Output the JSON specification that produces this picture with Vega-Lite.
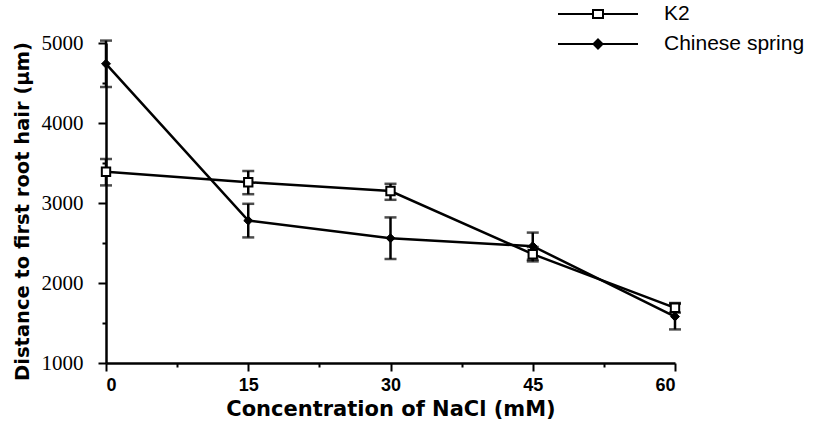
{
  "$schema": "https://vega.github.io/schema/vega-lite/v6.json",
  "width": 569,
  "height": 320,
  "autosize": {"type": "none"},
  "padding": {"left": 106, "top": 43, "right": 146, "bottom": 59},
  "background": "white",
  "config": {
    "view": {"stroke": null},
    "axis": {"domainColor": "black", "domainWidth": 2.5, "tickColor": "black", "tickWidth": 2, "labelColor": "black", "titleColor": "black", "grid": false}
  },
  "data": {
    "values": [
      {"series": "K2", "conc": 0, "mean": 3390, "lo": 3220, "hi": 3550},
      {"series": "K2", "conc": 15, "mean": 3260, "lo": 3110, "hi": 3400},
      {"series": "K2", "conc": 30, "mean": 3150, "lo": 3040, "hi": 3240},
      {"series": "K2", "conc": 45, "mean": 2360, "lo": 2270, "hi": 2450},
      {"series": "K2", "conc": 60, "mean": 1690, "lo": 1630, "hi": 1750},
      {"series": "Chinese spring", "conc": 0, "mean": 4740, "lo": 4450, "hi": 5030},
      {"series": "Chinese spring", "conc": 15, "mean": 2780, "lo": 2570, "hi": 2990},
      {"series": "Chinese spring", "conc": 30, "mean": 2560, "lo": 2300, "hi": 2820},
      {"series": "Chinese spring", "conc": 45, "mean": 2460, "lo": 2290, "hi": 2630},
      {"series": "Chinese spring", "conc": 60, "mean": 1580, "lo": 1420, "hi": 1740}
    ]
  },
  "encoding": {
    "x": {
      "field": "conc", "type": "quantitative",
      "scale": {"domain": [0, 60], "nice": false, "zero": false},
      "axis": {
        "title": "Concentration of NaCl (mM)",
        "values": [0, 7.5, 15, 22.5, 30, 37.5, 45, 52.5, 60],
        "labelExpr": "datum.value % 15 === 0 ? datum.label : ''",
        "tickSize": {"condition": {"test": "datum.value % 15 === 0", "value": 8}, "value": 4},
        "labelFont": "Liberation Sans", "labelFontSize": 18, "labelFontWeight": "bold", "labelPadding": 5,
        "titleFont": "DejaVu Sans", "titleFontSize": 21, "titleFontWeight": "bold", "titlePadding": 4
      }
    },
    "y": {
      "field": "mean", "type": "quantitative",
      "scale": {"domain": [1000, 5000], "nice": false, "zero": false},
      "axis": {
        "title": "Distance to first root hair (µm)",
        "values": [1000, 1500, 2000, 2500, 3000, 3500, 4000, 4500, 5000],
        "labelExpr": "datum.value % 1000 === 0 ? datum.value : ''",
        "tickSize": {"condition": {"test": "datum.value % 1000 === 0", "value": 8}, "value": 4},
        "labelFont": "Liberation Serif", "labelFontSize": 21, "labelPadding": 15,
        "titleFont": "DejaVu Sans", "titleFontSize": 19.5, "titleFontWeight": "bold", "titlePadding": 9, "titleY": 168
      }
    }
  },
  "layer": [
    {
      "mark": {"type": "line", "color": "black", "strokeWidth": 2.5},
      "encoding": {"detail": {"field": "series"}}
    },
    {
      "mark": {"type": "errorbar", "color": "black", "thickness": 2.5, "ticks": {"size": 12, "thickness": 2.5, "color": "black"}},
      "encoding": {
        "y": {"field": "lo", "type": "quantitative"},
        "y2": {"field": "hi"},
        "detail": {"field": "series"}
      }
    },
    {
      "transform": [{"filter": "false"}],
      "mark": {"type": "point", "color": "black", "strokeWidth": 2, "filled": false},
      "encoding": {
        "shape": {
          "field": "series", "type": "nominal",
          "scale": {"domain": ["K2", "Chinese spring"], "range": ["M-4,0H-0.5M0.5,0H4M-0.5,-0.4H0.5V0.4H-0.5Z", "M-4,0H4M0,-0.45L0.45,0L0,0.45L-0.45,0ZM0,-0.25L0.25,0L0,0.25L-0.25,0ZM-0.1,0H0.1"]},
          "legend": {
            "title": null,
            "orient": "none",
            "legendX": 481,
            "legendY": -40,
            "symbolSize": 400,
            "symbolStrokeWidth": 2,
            "symbolStrokeColor": "black",
            "symbolFillColor": "white",
            "symbolOpacity": 1,
            "labelFont": "Liberation Sans",
            "labelFontSize": 21,
            "labelColor": "black",
            "labelOffset": 55,
            "rowPadding": 9
          }
        }
      }
    },
    {
      "transform": [{"filter": "datum.series === 'K2'"}],
      "mark": {"type": "point", "shape": "square", "filled": true, "fill": "white", "stroke": "black", "strokeWidth": 2, "opacity": 1, "size": 70}
    },
    {
      "transform": [{"filter": "datum.series === 'Chinese spring'"}],
      "mark": {"type": "point", "shape": "diamond", "filled": true, "fill": "black", "stroke": "black", "strokeWidth": 1, "opacity": 1, "size": 80}
    }
  ]
}
